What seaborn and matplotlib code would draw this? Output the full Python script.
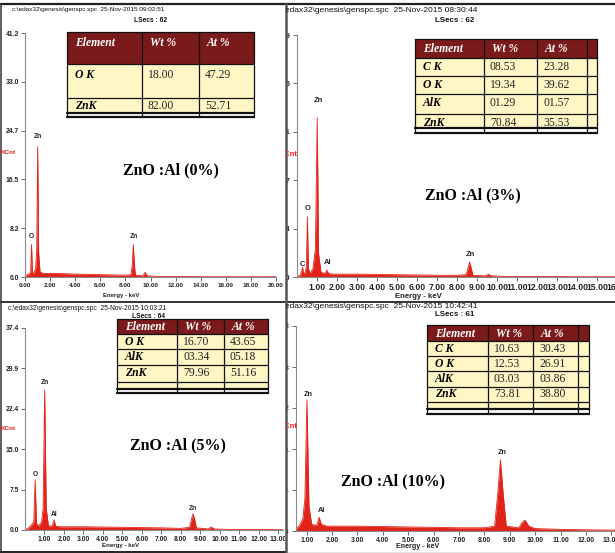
import matplotlib
matplotlib.use("Agg")
import matplotlib.pyplot as plt
from matplotlib.patches import Rectangle
from matplotlib.transforms import Bbox, TransformedBbox
import seaborn as sns

sns.set_style("white")
plt.rcParams['font.family'] = ['Liberation Sans', 'DejaVu Sans']

W, H = 615, 553
RED = "#E2231A"
MAROON = "#7A1A1A"
CREAM = "#FFF6C6"
SERIF = "Liberation Serif"

# ---- EDX spectra (energy in keV, counts in KCnt) ----
energy_0 = [0.00, 0.10, 0.30, 0.45, 0.52, 0.59, 0.70, 0.85, 0.93, 1.01, 1.09, 1.20, 1.50,
            2.50, 4.00, 6.00, 8.00, 8.45, 8.55, 8.63, 8.71, 8.80, 9.40, 9.57, 9.72, 10.50,
            12.00, 14.00, 16.00, 18.00, 20.00]
counts_0 = [0.0, 0.3, 0.5, 0.8, 5.5, 0.8, 0.6, 1.5, 4.5, 22.0, 4.0, 0.8, 0.6,
            0.6, 0.5, 0.4, 0.3, 0.4, 2.2, 5.5, 2.2, 0.3, 0.2, 0.8, 0.2, 0.1,
            0.1, 0.05, 0.05, 0.05, 0.05]

energy_3 = [0.00, 0.15, 0.24, 0.28, 0.32, 0.40, 0.47, 0.52, 0.57, 0.65, 0.80, 0.92, 1.01,
            1.08, 1.20, 1.40, 1.49, 1.58, 1.80, 3.00, 5.00, 7.00, 8.00, 8.45, 8.55, 8.63,
            8.71, 8.80, 9.40, 9.57, 9.72, 10.50, 12.00, 14.00, 16.50]
counts_3 = [0.0, 0.3, 1.0, 1.7, 0.8, 0.5, 2.0, 10.4, 1.5, 0.6, 1.5, 5.0, 27.5,
            4.0, 0.8, 0.6, 1.2, 0.6, 0.5, 0.5, 0.4, 0.3, 0.3, 0.4, 1.5, 2.6,
            1.5, 0.3, 0.2, 0.45, 0.2, 0.1, 0.1, 0.05, 0.05]

energy_5 = [0.00, 0.15, 0.30, 0.45, 0.52, 0.59, 0.70, 0.85, 0.93, 1.01, 1.09, 1.20, 1.40,
            1.49, 1.58, 1.80, 3.00, 5.00, 7.00, 8.00, 8.45, 8.55, 8.63, 8.71, 8.80, 9.40,
            9.57, 9.72, 10.50, 12.00, 13.25]
counts_5 = [0.0, 0.3, 0.8, 1.5, 9.3, 1.2, 0.7, 1.5, 4.0, 25.9, 4.0, 0.8, 0.7,
            1.9, 0.7, 0.6, 0.6, 0.5, 0.4, 0.3, 0.5, 2.0, 3.0, 2.0, 0.4, 0.2,
            0.55, 0.2, 0.1, 0.1, 0.05]

energy_10 = [0.58, 0.70, 0.85, 0.93, 1.01, 1.09, 1.20, 1.40, 1.49, 1.58, 1.80, 3.00, 5.00,
             7.00, 8.00, 8.40, 8.52, 8.63, 8.74, 8.86, 9.35, 9.50, 9.60, 9.75, 10.00, 11.00,
             12.00, 13.30]
counts_10 = [0.3, 0.6, 1.5, 4.0, 16.2, 3.0, 0.8, 0.7, 1.7, 0.8, 0.6, 0.6, 0.5,
             0.4, 0.4, 0.6, 4.5, 8.8, 4.5, 0.6, 0.4, 1.1, 1.35, 0.6, 0.3, 0.2,
             0.15, 0.1]

# ---- axis ticks ----
xticks_0 = [0, 2, 4, 6, 8, 10, 12, 14, 16, 18, 20]
xticks_3 = [1, 2, 3, 4, 5, 6, 7, 8, 9, 10, 11, 12, 13, 14, 15, 16]
xticks_5 = [1, 2, 3, 4, 5, 6, 7, 8, 9, 10, 11, 12, 13]
xticks_10 = [1, 2, 3, 4, 5, 6, 7, 8, 9, 10, 11, 12, 13]
yticks_0 = [0.0, 8.24, 16.48, 24.72, 32.96, 41.2]
yticks_3 = [0.0, 8.37, 16.74, 25.11, 33.48, 41.85]
yticks_5 = [0.0, 7.48, 14.96, 22.44, 29.92, 37.4]
yticks_10 = [0.0, 5.065, 10.13, 15.195, 20.26, 25.325]

# ---- quantification tables ----
elements_0 = ["O K", "ZnK"]
wt_0 = ["18.00", "82.00"]
at_0 = ["47.29", "52.71"]
elements_3 = ["C K", "O K", "AlK", "ZnK"]
wt_3 = ["08.53", "19.34", "01.29", "70.84"]
at_3 = ["23.28", "39.62", "01.57", "35.53"]
elements_5 = ["O K", "AlK", "ZnK"]
wt_5 = ["16.70", "03.34", "79.96"]
at_5 = ["43.65", "05.18", "51.16"]
elements_10 = ["C K", "O K", "AlK", "ZnK"]
wt_10 = ["10.63", "12.53", "03.03", "73.81"]
at_10 = ["30.43", "26.91", "03.86", "38.80"]

fig = plt.figure(figsize=(W / 100, H / 100), dpi=100)


def px_axes(x0, y0, x1, y1, **kw):
    return fig.add_axes([x0 / W, 1 - y1 / H, (x1 - x0) / W, (y1 - y0) / H], **kw)


def px_box(x0, y0, x1, y1):
    return TransformedBbox(Bbox.from_extents(x0 / W, 1 - y1 / H, x1 / W, 1 - y0 / H),
                           fig.transFigure)


panels = {
    "0": (0, 4, 285, 302),
    "3": (286, 4, 615, 302),
    "5": (0, 302, 285, 553),
    "10": (286, 302, 615, 553),
}
clips = {k: px_box(*v) for k, v in panels.items()}


def spectrum(box, xlim, ylim, energy, counts, xticks, yticks, xfs, yfs, clip):
    ax = px_axes(*box)
    ax.fill_between(energy, counts, color=RED, lw=0)
    sns.lineplot(x=energy, y=counts, ax=ax, color=RED, lw=0.6)
    ax.set_xlim(xlim)
    ax.set_ylim(ylim)
    ax.set_xticks(xticks)
    ax.set_xticklabels([f"{v:.2f}" for v in xticks])
    ax.set_yticks(yticks)
    ax.set_yticklabels([f"{v:.1f}" for v in yticks])
    ax.set_xlabel("")
    ax.set_ylabel("")
    ax.set_facecolor("none")
    for s in ["top", "right"]:
        ax.spines[s].set_visible(False)
    for s in ["left", "bottom"]:
        ax.spines[s].set_color("#8a8a8a")
        ax.spines[s].set_linewidth(0.8)
    ax.tick_params(axis="both", bottom=True, left=True, direction="out", length=3,
                   width=0.6, color="#555555", pad=1.5)
    ax.tick_params(axis="x", labelsize=xfs)
    ax.tick_params(axis="y", labelsize=yfs)
    for lab in ax.get_xticklabels() + ax.get_yticklabels():
        lab.set_fontweight("bold")
        lab.set_color("#222222")
        lab.set_clip_box(clip)
        lab.set_clip_on(True)
    return ax


spectrum((25, 33, 276, 277), (0, 20), (0, 41.2), energy_0, counts_0,
         xticks_0, yticks_0, 4.6, 4.9, clips["0"])
spectrum((297, 35, 627, 277), (0, 16.5), (0, 41.85), energy_3, counts_3,
         xticks_3, yticks_3, 6.2, 5.5, clips["3"])
spectrum((25, 328, 283, 530), (0, 13.25), (0, 37.4), energy_5, counts_5,
         xticks_5, yticks_5, 4.9, 4.9, clips["5"])
spectrum((296, 326, 619, 531), (0.58, 13.3), (0, 25.325), energy_10, counts_10,
         xticks_10, yticks_10, 4.9, 5.5, clips["10"])

# overlay in pixel coordinates for frames, captions and tables
ov = fig.add_axes([0, 0, 1, 1], zorder=10)
ov.set_xlim(0, W)
ov.set_ylim(H, 0)
ov.axis("off")
ov.patch.set_alpha(0)

# frames
ov.plot([0, W], [4, 4], color="#222222", lw=1.6)
ov.plot([0, W], [302, 302], color="#333333", lw=1.4)
ov.plot([285.5, 285.5], [4, H], color="#555555", lw=1.8)
ov.plot([0.8, 0.8], [4, 552], color="#444444", lw=1.2)
ov.plot([0, 285], [551.5, 551.5], color="#222222", lw=1.4)
ov.plot([285, W], [552.5, 552.5], color="#777777", lw=1.0)


def ptext(x, y, s, key, **kw):
    t = ov.text(x, y, s, **kw)
    t.set_clip_on(True)
    t.set_clip_path(None)
    t.set_clip_box(clips[key])
    return t


# file headers
headers = [
    ("0", 12, 9, "c:\\edax32\\genesis\\genspc.spc  25-Nov-2015 09:02:51", 4.6, 150, 20, "LSecs : 62", 4.8),
    ("3", 276, 10, "c:\\edax32\\genesis\\genspc.spc  25-Nov-2015 08:30:44", 6.0, 455, 20, "LSecs : 62", 5.7),
    ("5", 8, 309, "c:\\edax32\\genesis\\genspc.spc  25-Nov-2015 10:03:21", 4.8, 149, 316, "LSecs : 64", 4.8),
    ("10", 276, 307, "c:\\edax32\\genesis\\genspc.spc  25-Nov-2015 10:42:41", 6.0, 455, 315, "LSecs : 61", 5.7),
]
for key, hx, hy, htxt, hfs, lx, ly, ltxt, lfs in headers:
    ptext(hx, hy, htxt, key, fontsize=hfs, ha="left", va="center", color="#111111")
    ptext(lx, ly, ltxt, key, fontsize=lfs, ha="center", va="center", color="#111111",
          fontweight="bold")

# axis captions
for key, x, y, fs in [("0", 121, 296, 4.3), ("3", 418, 296, 5.6),
                      ("5", 121, 546, 4.4), ("10", 418, 547, 5.1)]:
    ptext(x, y, "Energy - keV", key, fontsize=fs, ha="center", va="center",
          fontweight="bold", color="#222222")
for key, x, y, fs in [("0", 1, 152, 4.6), ("3", 280, 155, 5.4),
                      ("5", 1, 428, 4.6), ("10", 280, 427, 5.4)]:
    ptext(x, y, "KCnt", key, fontsize=fs, ha="left", va="center",
          fontweight="bold", color="#E8201C")

# peak labels
peak_labels = [
    ("0", 38, 137, "Zn", 4.8), ("0", 31, 237, "O", 4.8), ("0", 134, 237, "Zn", 4.8),
    ("3", 318, 100, "Zn", 5.5), ("3", 308, 209, "O", 5.5), ("3", 302, 264, "C", 5.5),
    ("3", 328, 263, "Al", 5.5), ("3", 470, 254, "Zn", 5.5),
    ("5", 45, 382, "Zn", 4.8), ("5", 35, 474, "O", 4.8), ("5", 54, 514, "Al", 4.8),
    ("5", 193, 508, "Zn", 4.8),
    ("10", 308, 394, "Zn", 5.2), ("10", 321, 511, "Al", 5.2), ("10", 502, 453, "Zn", 5.2),
]
for key, x, y, s, fs in peak_labels:
    ptext(x, y, s, key, fontsize=fs, ha="center", va="center", fontweight="bold",
          color="#222222")

# sample captions
for key, x, y, s in [("0", 171, 170, "ZnO :Al (0%)"), ("3", 473, 195, "ZnO :Al (3%)"),
                     ("5", 178, 445, "ZnO :Al (5%)"), ("10", 393, 481, "ZnO :Al (10%)")]:
    ptext(x, y, s, key, fontsize=11.5, ha="center", va="center", fontweight="bold",
          family=SERIF, color="black")


def draw_table(cols, hdr, lines, ty, elements, wt, at, fs=8.4):
    x0, x1 = cols[0], cols[-1]
    ov.add_patch(Rectangle((x0, hdr[0]), x1 - x0, hdr[1] - hdr[0], fc=MAROON, ec="none"))
    ov.add_patch(Rectangle((x0, hdr[1]), x1 - x0, lines[-2] - hdr[1], fc=CREAM, ec="none",
                           hatch="......", lw=0))
    for y in [hdr[0]] + lines[:-2]:
        ov.plot([x0, x1], [y, y], color="#111111", lw=0.9)
    for y in lines[-2:]:
        ov.plot([x0, x1], [y, y], color="#111111", lw=1.6)
    for x in cols:
        ov.plot([x, x], [hdr[0], lines[-1]], color="#111111", lw=0.9)
    for x, t in zip(cols[:3], ["Element", "Wt %", "At %"]):
        ov.text(x + 8, ty[0], t, color="white", family=SERIF, fontweight="bold",
                style="italic", fontsize=fs, va="center", ha="left")
    for y, e, w, a in zip(ty[1:], elements, wt, at):
        ov.text(cols[0] + 8, y, e, color="black", family=SERIF, fontweight="bold",
                style="italic", fontsize=fs, va="center", ha="left")
        ov.text(cols[1] + 6, y, w, color="#222222", family=SERIF, fontsize=fs,
                va="center", ha="left")
        ov.text(cols[2] + 6, y, a, color="#222222", family=SERIF, fontsize=fs,
                va="center", ha="left")


plt.rcParams['hatch.color'] = "#EFE2A0"
plt.rcParams['hatch.linewidth'] = 0.5
draw_table([67, 142, 199, 254], (32, 64), [64, 98, 113, 117], [43, 75, 106],
           elements_0, wt_0, at_0)
draw_table([415, 484, 537, 587, 597], (39, 58), [58, 76, 94, 114, 128, 133],
           [49, 67, 85, 103, 123], elements_3, wt_3, at_3)
draw_table([117, 177, 224, 268], (319, 334), [334, 349, 365, 382, 389, 393],
           [327, 342, 357, 373], elements_5, wt_5, at_5)
draw_table([427, 488, 533, 578, 589], (325, 341), [341, 356, 371, 387, 402, 409, 414],
           [334, 349, 364, 379, 394], elements_10, wt_10, at_10)

fig.savefig("out.png", dpi=100)
